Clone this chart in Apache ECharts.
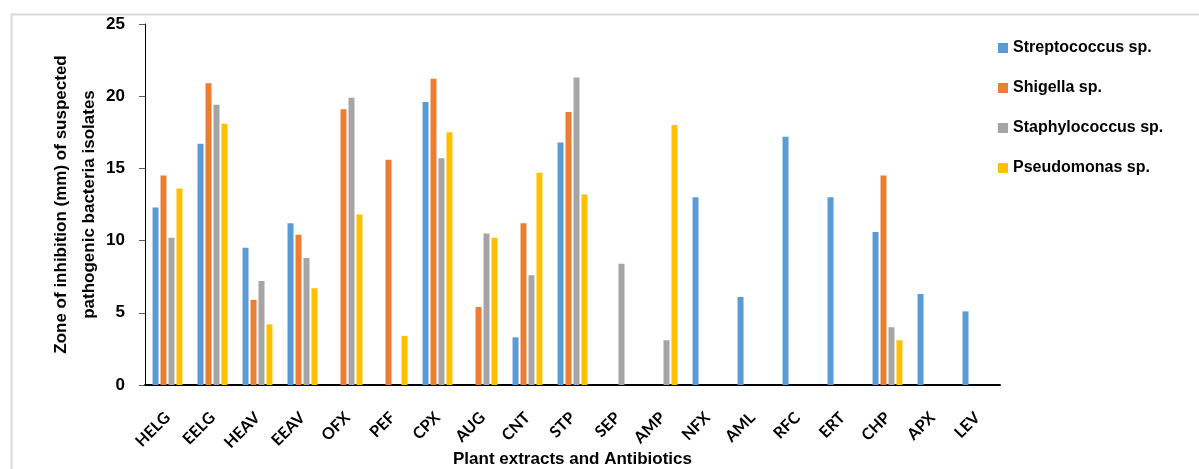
<!DOCTYPE html>
<html>
<head>
<meta charset="utf-8">
<script src="https://cdn.jsdelivr.net/npm/echarts@6/dist/echarts.min.js"></script>
<style>
html,body{margin:0;padding:0;background:#fff;}
#c{width:1199px;height:469px;}
</style>
</head>
<body>
<div id="c"></div>
<script>
var categories = ['HELG','EELG','HEAV','EEAV','OFX','PEF','CPX','AUG','CNT','STP','SEP','AMP','NFX','AML','RFC','ERT','CHP','APX','LEV'];
var streptococcus = [12.3,16.7,9.5,11.2,0,0,19.6,0,3.3,16.8,0,0,13.0,6.1,17.2,13.0,10.6,6.3,5.1];
var shigella      = [14.5,20.9,5.9,10.4,19.1,15.6,21.2,5.4,11.2,18.9,0,0,0,0,0,0,14.5,0,0];
var staphylococcus= [10.2,19.4,7.2,8.8,19.9,0,15.7,10.5,7.6,21.3,8.4,3.1,0,0,0,0,4.0,0,0];
var pseudomonas   = [13.6,18.1,4.2,6.7,11.8,3.4,17.5,10.2,14.7,13.2,0,18.0,0,0,0,0,3.1,0,0];
var seriesNames = ['Streptococcus sp.','Shigella sp.','Staphylococcus sp.','Pseudomonas sp.'];
var colors = ['#5B9BD5','#ED7D31','#A5A5A5','#FFC000'];

var narrow = '"Liberation Sans",Arial,sans-serif';
var cal = 'Lato,"Open Sans",sans-serif';

function toBars(arr){ return arr.map(function(v){ return v === 0 ? '-' : v; }); }
var all = [streptococcus, shigella, staphylococcus, pseudomonas];

var chart = echarts.init(document.getElementById('c'), null, {renderer:'canvas'});
chart.setOption({
  animation:false,
  backgroundColor:'#fff',
  graphic:[{
    type:'rect', left:9, top:12, silent:true,
    shape:{x:0,y:0,width:1250,height:520},
    style:{fill:'none', stroke:'#D9D9D9', lineWidth:2}
  }],
  grid:{left:145, right:199, top:24, bottom:84, containLabel:false, outerBoundsMode:'none'},
  legend:{
    orient:'vertical', left:993, top:33,
    itemWidth:10, itemHeight:10, itemGap:20,
    icon:'rect',
    textStyle:{fontFamily:narrow, fontWeight:'bold', fontSize:16, color:'#000', lineHeight:20},
    data:seriesNames
  },
  xAxis:{
    type:'category', data:categories,
    name:'Plant extracts and Antibiotics', nameLocation:'middle', nameGap:66, nameMoveOverlap:false,
    nameTextStyle:{fontFamily:narrow, fontWeight:'bold', fontSize:17, color:'#000'},
    axisLine:{lineStyle:{color:'#000', width:2}},
    axisTick:{inside:true, length:5, lineStyle:{color:'#000', width:2}},
    axisLabel:{rotate:45, margin:30, fontFamily:cal, fontWeight:'bold', fontSize:16, color:'#000', interval:0}
  },
  yAxis:{
    type:'value', min:0, max:25, interval:5,
    name:'Zone of inhibition (mm) of suspected\npathogenic bacteria isolates',
    nameLocation:'middle', nameRotate:90, nameGap:42, nameMoveOverlap:false,
    nameTextStyle:{fontFamily:narrow, fontWeight:'bold', fontSize:17, color:'#000', lineHeight:28},
    axisLine:{show:true, lineStyle:{color:'#000', width:1}},
    axisTick:{show:true, length:6, lineStyle:{color:'#595959'}},
    splitLine:{show:false},
    axisLabel:{margin:20, fontFamily:narrow, fontWeight:'bold', fontSize:17, color:'#000'}
  },
  series: all.map(function(arr,i){
    return {
      name:seriesNames[i], type:'bar', data:toBars(arr),
      barWidth:6, barGap:'33%',
      itemStyle:{color:colors[i]}
    };
  })
});
</script>
</body>
</html>
